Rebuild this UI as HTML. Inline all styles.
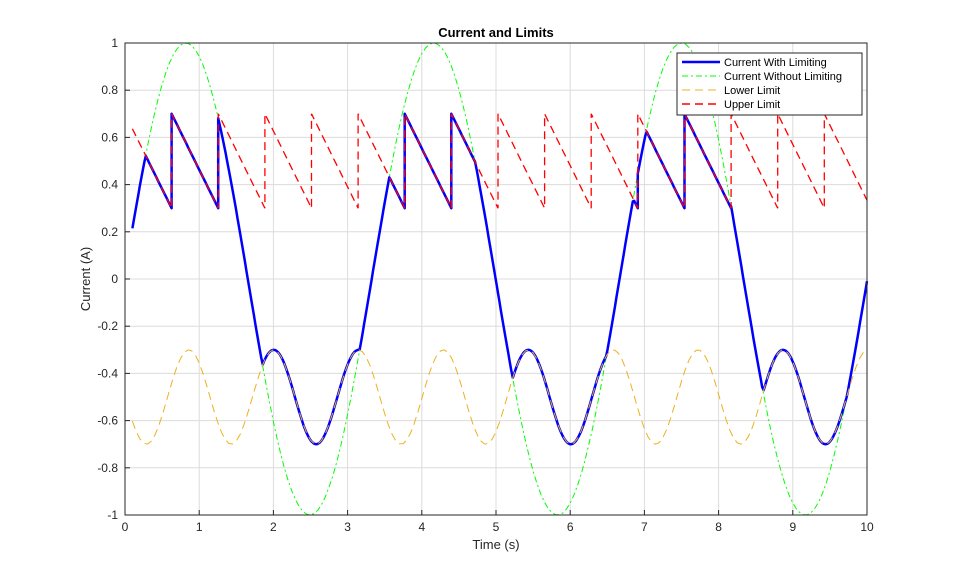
<!DOCTYPE html>
<html><head><meta charset="utf-8"><style>
body{margin:0;background:#fff;}
svg{display:block;font-family:"Liberation Sans",Arial,sans-serif;}
</style></head><body>
<svg id="s" width="959" height="577" xmlns="http://www.w3.org/2000/svg">
<rect x="0" y="0" width="959" height="577" fill="#fff"/>
<g id="grid"></g>
<g id="lines"></g>
<rect x="125" y="43" width="742" height="472" fill="none" stroke="#262626" stroke-width="1"/>
<g id="ticks" font-size="12" fill="#262626"></g>
<text x="496" y="37" text-anchor="middle" font-size="13" font-weight="bold" fill="#000">Current and Limits</text>
<text x="496" y="549" text-anchor="middle" font-size="13" fill="#262626">Time (s)</text>
<text transform="translate(90,279) rotate(-90)" text-anchor="middle" font-size="13" fill="#262626">Current (A)</text>
<g>
<rect x="677" y="53" width="185" height="62" fill="#fff" stroke="#262626" stroke-width="1"/>
<line x1="682" y1="62" x2="720" y2="62" stroke="#0000FF" stroke-width="2.5"/>
<line x1="682" y1="76" x2="720" y2="76" stroke="#00FF00" stroke-width="1" stroke-dasharray="6,3,2,3"/>
<line x1="682" y1="90" x2="720" y2="90" stroke="#EDB120" stroke-width="1" stroke-dasharray="8,5"/>
<line x1="682" y1="104" x2="720" y2="104" stroke="#FF0000" stroke-width="1.5" stroke-dasharray="8,5"/>
<text x="724" y="66" font-size="11" fill="#000">Current With Limiting</text>
<text x="724" y="80" font-size="11" fill="#000">Current Without Limiting</text>
<text x="724" y="94" font-size="11" fill="#000">Lower Limit</text>
<text x="724" y="108" font-size="11" fill="#000">Upper Limit</text>
</g>
</svg>
<script>
var NS="http://www.w3.org/2000/svg";
function X(x){return 125+74.2*x;}
function Y(y){return 279-236*y;}
var g=document.getElementById('grid'),t=document.getElementById('ticks'),L=document.getElementById('lines');
function el(p,tag,a,txt){var e=document.createElementNS(NS,tag);for(var k in a)e.setAttribute(k,a[k]);if(txt!=null)e.textContent=txt;p.appendChild(e);return e;}
for(var i=0;i<=10;i++){var x=X(i);el(g,'line',{x1:x,y1:43,x2:x,y2:515,stroke:'#dcdcdc','stroke-width':1});
el(t,'line',{x1:x,y1:515,x2:x,y2:510,stroke:'#262626'});el(t,'text',{x:x,y:531,'text-anchor':'middle'},String(i));}
for(var j=-5;j<=5;j++){var v=j/5,y=Y(v);el(g,'line',{x1:125,y1:y,x2:867,y2:y,stroke:'#dcdcdc','stroke-width':1});
el(t,'line',{x1:125,y1:y,x2:130,y2:y,stroke:'#262626'});
var s=(Math.round(v*10)/10).toString();el(t,'text',{x:118,y:y+4,'text-anchor':'end'},s);}
function green(x){return Math.cos(2*Math.PI*(x-0.82)/3.34);}
function lower(x){return -0.5+0.2*Math.cos(2*Math.PI*(x-0.86)/1.144);}
var P=Math.PI/5;
function upper(x){var m=x%P;return 0.7-0.4*m/P;}
var dt=0.05,xs=[];for(var x=0.1;x<=10.0001;x+=dt)xs.push(x);
function path(f){var d='';xs.forEach(function(x,i){d+=(i?'L':'M')+X(x).toFixed(1)+','+Y(f(x)).toFixed(1);});return d;}
var du='',first=true;
for(var k=0;;k++){var a=Math.max(0.1,k*P),b=Math.min(10,(k+1)*P-1e-6);if(a>=10)break;if(b<=0.1)continue;
var seg='';for(var x=a;x<b;x+=0.05)seg+='L'+X(x).toFixed(1)+','+Y(upper(x)).toFixed(1);
seg+='L'+X(b).toFixed(1)+','+Y(0.7-0.4*((b-k*P)/P)).toFixed(1);
if(first){du+='M'+seg.slice(1);first=false;}else du+=seg;}
function blue(x){var v=green(x),lo=lower(x),up=upper(x);return Math.min(up,Math.max(lo,v));}
var db='';first=true;
for(var k=0;;k++){var a=Math.max(0.1,k*P),b=Math.min(10,(k+1)*P-1e-6);if(a>=10)break;if(b<=0.1)continue;
var seg='';for(var x=a;x<b;x+=0.02)seg+='L'+X(x).toFixed(1)+','+Y(blue(x)).toFixed(1);
var ub=0.7-0.4*((b-k*P)/P);
seg+='L'+X(b).toFixed(1)+','+Y(Math.min(ub,Math.max(lower(b),green(b)))).toFixed(1);
if(first){db+='M'+seg.slice(1);first=false;}else db+=seg;}
el(L,'path',{d:path(green),fill:'none',stroke:'#00FF00','stroke-width':1,'stroke-dasharray':'6,3,2,3'});
el(L,'path',{d:db,fill:'none',stroke:'#0000FF','stroke-width':2.5,'stroke-linejoin':'round'});
el(L,'path',{d:path(lower),fill:'none',stroke:'#EDB120','stroke-width':1,'stroke-dasharray':'8,5'});
el(L,'path',{d:du,fill:'none',stroke:'#FF0000','stroke-width':1.3,'stroke-dasharray':'8,5'});
</script>
</body></html>
